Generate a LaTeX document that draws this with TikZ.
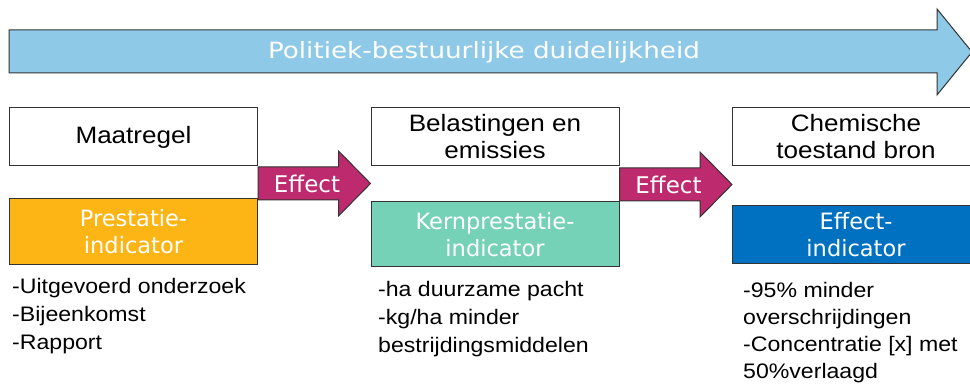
\documentclass[tikz,border=0pt]{standalone}
\usepackage{fontspec}
\setmainfont[FakeStretch=1.1]{Liberation Sans}
\newfontfamily\verdfont{DejaVu Sans}
\newfontfamily\titelfont[FakeStretch=1.17]{DejaVu Sans}
\usepackage{tikz}
\usetikzlibrary{calc}

\definecolor{titelblauw}{HTML}{8FC9E8}
\definecolor{prestoranje}{HTML}{FDB515}
\definecolor{kerngroen}{HTML}{76D2B6}
\definecolor{effblauw}{HTML}{0070C0}
\definecolor{effmagenta}{HTML}{BE2A6E}

\begin{document}
\begin{tikzpicture}[x=1pt,y=1pt,
    kop/.style={draw=black!80, line width=1pt, fill=white, minimum width=248, minimum height=58,
      align=center, inner sep=0pt, font=\fontsize{23.7}{27}\selectfont},
    indicator/.style={draw=black!80, line width=1pt, minimum width=248, align=center, inner sep=0pt,
      text=white, font=\verdfont\fontsize{22.5}{27}\selectfont},
    lijst/.style={anchor=base west, align=left, inner sep=0pt, font=\fontsize{21}{28}\selectfont},
    pijl/.style={draw=black!80, line width=1pt, fill=effmagenta}]
      \useasboundingbox (0,0) rectangle (970,385);
      \clip (0,0) rectangle (970,385);
      % grote pijl bovenaan
      \draw[line width=1pt, draw=black!80, fill=titelblauw] (9,355) -- (937,355) -- (937,376) -- (972,333)
        -- (937,290) -- (937,312) -- (9,312) -- cycle;
      \node[anchor=base, text=white, inner sep=0pt, font=\titelfont\fontsize{22.4}{27}\selectfont] (titel) at (484,326)
        {Politiek-bestuurlijke duidelijkheid};
      % bovenste rij
      \node[kop] (maat) at (133.5,248) {Maatregel};
      \node[kop] (belast) at (495,248) {Belastingen en\\emissies};
      \node[kop] (chem) at (856,248) {Chemische\\toestand bron};
      % indicatoren
      \node[indicator, fill=prestoranje, minimum height=66] (prest) at (133.5,153) {Prestatie-\\indicator};
      \node[indicator, fill=kerngroen, minimum height=65] (kern) at (495,150.5) {Kernprestatie-\\indicator};
      \node[indicator, fill=effblauw, minimum height=58] (effind) at (856,150) {Effect-\\indicator};
      % effect pijlen
      \foreach \van/\dy/\naam in {maat/-46.5/eff1, belast/-47.5/eff2} {
        \draw[pijl] ([yshift=\dy]\van.east) ++(0,16.5) -- ++(80.5,0) -- ++(0,16) -- ++(32,-32.5)
          -- ++(-32,-32.5) -- ++(0,16) -- ++(-80.5,0) -- cycle;
        \node[anchor=base, text=white, inner sep=0pt, font=\verdfont\fontsize{23}{27}\selectfont] (\naam)
          at ($([yshift=\dy]\van.east)+(49,-9)$) {Effect};
      }
      % voorbeelden (base = laatste regel)
      \node[lijst] (lijst1) at (12,35) {-Uitgevoerd onderzoek\\-Bijeenkomst\\-Rapport};
      \node[lijst] (lijst2) at (378,32) {-ha duurzame pacht\\-kg/ha minder\\bestrijdingsmiddelen};
      \node[lijst, font=\fontsize{21}{27}\selectfont] (lijst3) at (743,6)
        {-95\% minder\\overschrijdingen\\-Concentratie [x] met\\50\%verlaagd};
\end{tikzpicture}
\end{document}
